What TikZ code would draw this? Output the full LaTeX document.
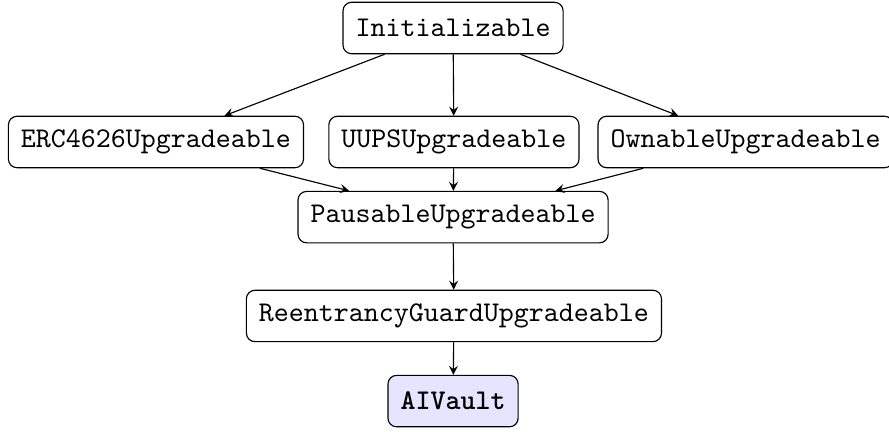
\documentclass[tikz,border=0pt]{standalone}
\usetikzlibrary{arrows}

\tikzset{
  contract/.style={draw, rounded corners=3pt, font=\ttfamily, inner xsep=4.4pt, minimum height=18pt},
  mainct/.style={contract, fill=blue!10, font=\ttfamily\bfseries},
  inherit/.style={-stealth}
}

\begin{document}
\begin{tikzpicture}[x=1pt, y=-1pt]
  \useasboundingbox (0,0) rectangle (311.2,151.2);

  % Base contract
  \node[contract] (init) at (158.6, 9.8) {Initializable};

  % Upgradeable mixins
  \node[contract] (erc)  at (54.6, 49.7)  {ERC4626Upgradeable};
  \node[contract] (uups) at (158.9, 49.7) {UUPSUpgradeable};
  \node[contract] (own)  at (261.0, 49.7) {OwnableUpgradeable};

  % Chain down to the vault
  \node[contract] (pause) at (158.6, 76.0)  {PausableUpgradeable};
  \node[contract] (guard) at (158.9, 110.6) {ReentrancyGuardUpgradeable};
  \node[mainct]   (vault) at (158.6, 140.4) {AIVault};

  % Inheritance arrows
  \draw[inherit] (init) -- (erc);
  \draw[inherit] (init) -- (uups);
  \draw[inherit] (init) -- (own);
  \draw[inherit] (erc)  -- (pause);
  \draw[inherit] (uups) -- (pause);
  \draw[inherit] (own)  -- (pause);
  \draw[inherit] (pause) -- (guard);
  \draw[inherit] (guard) -- (vault);
\end{tikzpicture}
\end{document}
